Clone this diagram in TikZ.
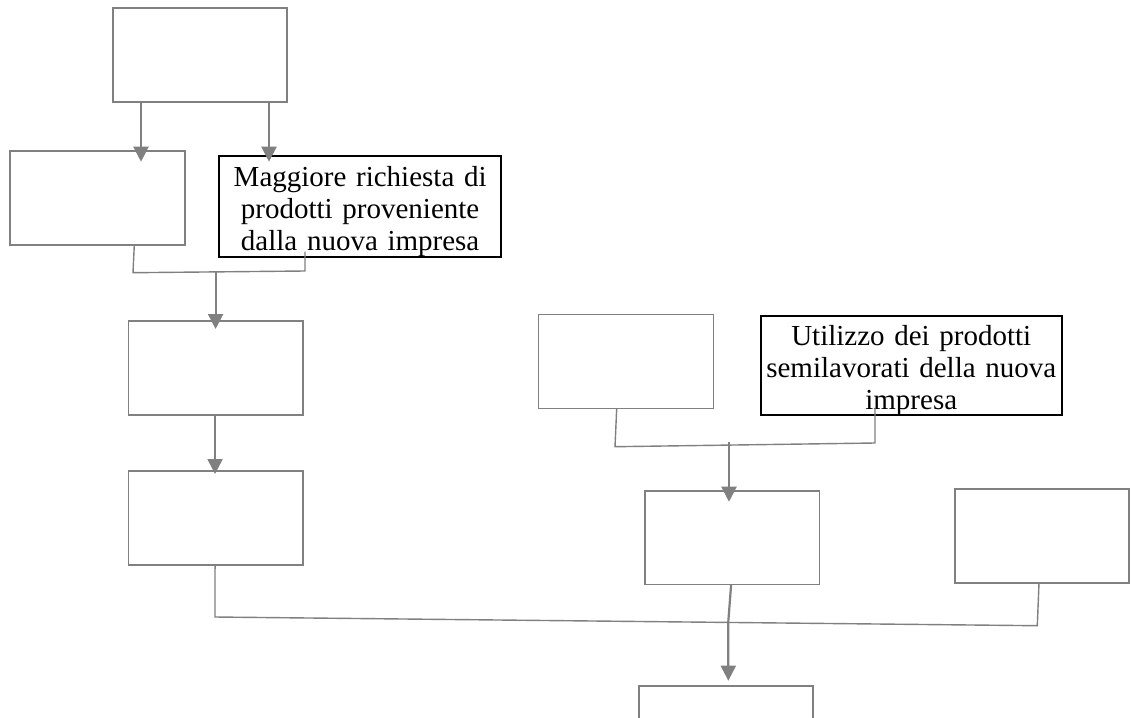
\documentclass[tikz,border=0pt]{standalone}
\usepackage{fontspec}
\setmainfont{Liberation Serif}
\usetikzlibrary{arrows.meta,calc}
\definecolor{linegray}{HTML}{808080}
\begin{document}
\begin{tikzpicture}[x=1pt,y=-1pt,
  graybox/.style={draw=linegray,line width=1.6pt,fill=white,inner sep=0pt,outer sep=0pt,anchor=north west},
  textbox/.style={draw=black,line width=2pt,fill=white,inner sep=0pt,outer sep=0pt,anchor=north west},
  boxtext/.style={anchor=base,align=center,inner sep=0pt,font=\fontsize{29}{32}\selectfont},
  link/.style={draw=linegray,line width=1.4pt},
  flow/.style={draw=linegray,line width=2.2pt,-{Triangle[length=15pt,width=15pt]}}]
\useasboundingbox (0,0) rectangle (1131,717);
\clip (0,0) rectangle (1131,717);

% boxes
\node[graybox,minimum width=174pt,minimum height=93.7pt] (A) at (113,8) {};
\node[graybox,minimum width=175pt,minimum height=94.3pt] (B) at (10,150.7) {};
\node[textbox,minimum width=281.7pt,minimum height=101.3pt] (C) at (219.3,156) {};
\node[graybox,minimum width=174.7pt,minimum height=94pt] (D) at (128.3,320.7) {};
\node[graybox,minimum width=174.7pt,minimum height=94.3pt] (E) at (128.3,470.7) {};
\node[graybox,minimum width=175pt,minimum height=94pt] (F) at (538.3,314.3) {};
\node[textbox,minimum width=301.5pt,minimum height=99.5pt] (G) at (760.5,315.7) {};
\node[graybox,minimum width=174.3pt,minimum height=93.6pt] (H) at (645,490.7) {};
\node[graybox,minimum width=174pt,minimum height=93.7pt] (I) at (955,489) {};
\node[graybox,minimum width=173.7pt,minimum height=60pt] (J) at (639,686) {};

% box texts
\node[boxtext,text width=281.7pt] (Ct) at ([yshift=-30pt]C.north)
  {Maggiore richiesta di\\prodotti proveniente\\dalla nuova impresa};
\node[boxtext,text width=301.5pt] (Gt) at ([yshift=-29.3pt]G.north)
  {Utilizzo dei prodotti\\semilavorati della nuova\\impresa};

% top branch
\draw[flow,shorten >=-11pt] ([xshift=28pt]A.south west) -- ([xshift=28pt]A.south west |- B.north);
\draw[flow,shorten >=-5.7pt] ([xshift=156pt]A.south west) -- ([xshift=156pt]A.south west |- C.north);

% first junction
\coordinate (j1) at (133,272.7);
\coordinate (j2) at (305,271);
\draw[link] ([xshift=124.3pt]B.south west) -- (j1) -- (j2) -- ([xshift=85.7pt,yshift=5.6pt]C.south west);
\coordinate (m1) at (215.6,271.2);
\draw[flow,shorten >=-8.3pt] (m1) -- (m1 |- D.north);
\draw[flow,shorten >=-3.3pt] ([xshift=-0.6pt]D.south) -- ([xshift=-0.6pt]D.south |- E.north);

% second junction
\coordinate (f1) at (615,446.7);
\coordinate (f2) at (875,443);
\draw[link] ([xshift=78.4pt]F.south west) -- (f1) -- (f2) -- ([xshift=114.5pt,yshift=7.5pt]G.south west);
\coordinate (m2) at (729,441.8);
\draw[flow,shorten >=-11pt] (m2) -- (m2 |- H.north);

% bottom junction
\coordinate (k1) at (215,617);
\coordinate (k2) at (1037.3,625.7);
\draw[link] ([xshift=-0.6pt]E.south) -- (k1) -- (k2) -- ([xshift=-3pt]I.south);
\coordinate (h1) at (728.3,621.5);
\draw[flow,shorten >=5.3pt] ([xshift=-1pt]H.south) -- (h1) -- (h1 |- J.north);
\end{tikzpicture}
\end{document}
